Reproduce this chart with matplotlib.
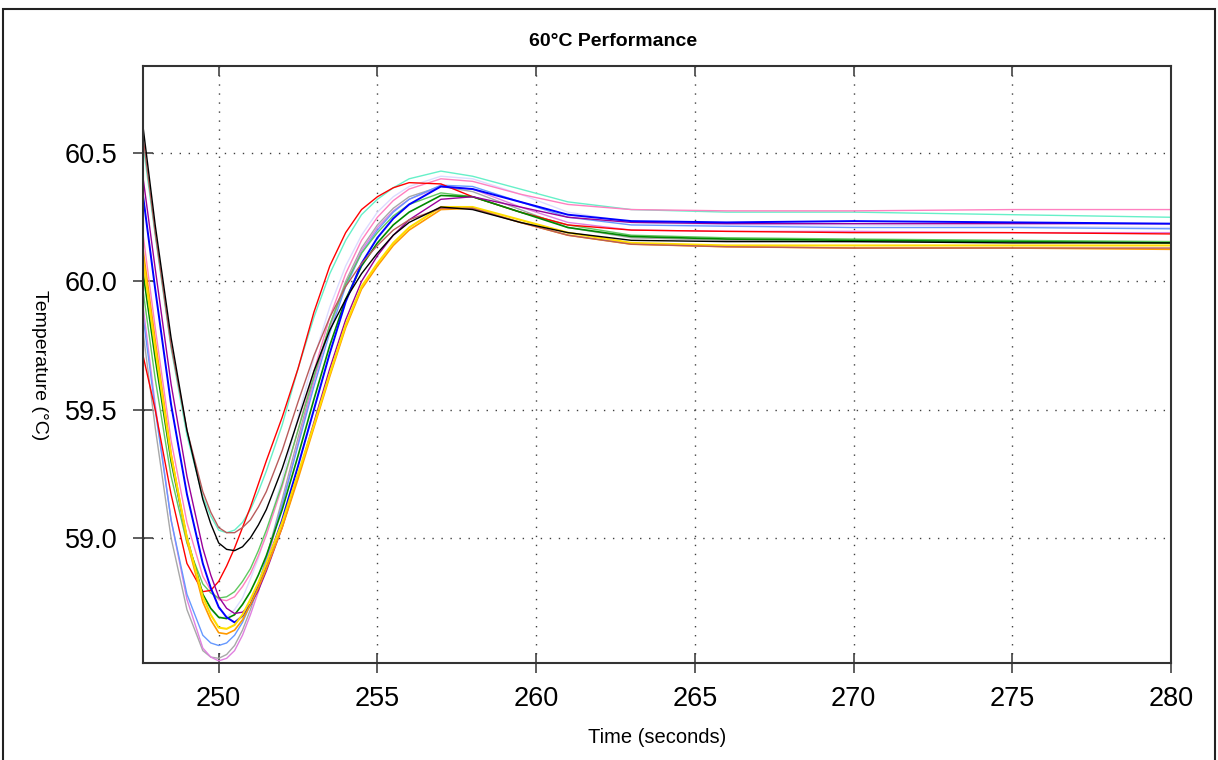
import matplotlib
matplotlib.use("Agg")
import matplotlib.pyplot as plt
from matplotlib.patches import Rectangle

# ---------------- data ----------------
time_s = [247.6, 248.0, 248.5, 249.0, 249.5, 249.75, 250.0, 250.25, 250.5, 250.75, 251.0,
          251.25, 251.5, 252.0, 252.5, 253.0, 253.5, 254.0, 254.5, 255.0, 255.5, 256.0,
          257.0, 258.0, 259.5, 261.0, 263.0, 266.0, 270.0, 275.0, 280.0]

lavender = [60.10, 59.72, 59.29, 58.98, 58.77, 58.72, 58.69, 58.69, 58.72, 58.765, 58.84,
            58.92, 59.02, 59.23, 59.47, 59.70, 59.90, 60.06, 60.18, 60.27, 60.33, 60.37,
            60.41, 60.40, 60.34, 60.27, 60.23, 60.22, 60.22, 60.215, 60.21]
gray = [59.82, 59.43, 59.00, 58.72, 58.56, 58.535, 58.53, 58.545, 58.58, 58.64, 58.72,
        58.81, 58.92, 59.15, 59.39, 59.62, 59.83, 60.00, 60.13, 60.22, 60.285, 60.33,
        60.37, 60.35, 60.28, 60.21, 60.17, 60.16, 60.155, 60.155, 60.155]
violet = [59.92, 59.52, 59.07, 58.76, 58.57, 58.535, 58.52, 58.53, 58.56, 58.62, 58.70,
          58.79, 58.90, 59.13, 59.37, 59.61, 59.82, 59.99, 60.12, 60.21, 60.275, 60.32,
          60.37, 60.36, 60.29, 60.23, 60.20, 60.195, 60.195, 60.19, 60.19]
cornflower = [59.88, 59.50, 59.07, 58.78, 58.62, 58.59, 58.58, 58.59, 58.62, 58.67, 58.74,
              58.82, 58.92, 59.13, 59.36, 59.59, 59.80, 59.98, 60.11, 60.20, 60.27, 60.32,
              60.375, 60.37, 60.31, 60.25, 60.22, 60.215, 60.21, 60.21, 60.205]
aqua = [60.55, 60.18, 59.74, 59.40, 59.16, 59.085, 59.03, 59.02, 59.03, 59.06, 59.11,
        59.18, 59.26, 59.44, 59.66, 59.86, 60.03, 60.16, 60.26, 60.32, 60.365, 60.40,
        60.43, 60.41, 60.36, 60.31, 60.28, 60.27, 60.27, 60.26, 60.25]
pink = [60.20, 59.82, 59.38, 59.06, 58.85, 58.795, 58.76, 58.755, 58.77, 58.81, 58.86,
        58.93, 59.01, 59.20, 59.42, 59.65, 59.86, 60.03, 60.16, 60.25, 60.315, 60.36,
        60.40, 60.39, 60.34, 60.30, 60.28, 60.275, 60.275, 60.28, 60.28]
lightgreen = [59.98, 59.62, 59.24, 58.98, 58.82, 58.785, 58.765, 58.77, 58.79, 58.83, 58.88,
              58.95, 59.03, 59.21, 59.42, 59.63, 59.83, 59.99, 60.11, 60.19, 60.255, 60.30,
              60.345, 60.33, 60.27, 60.22, 60.18, 60.17, 60.165, 60.16, 60.155]
red = [59.72, 59.50, 59.17, 58.90, 58.79, 58.795, 58.83, 58.89, 58.96, 59.04, 59.12,
       59.21, 59.30, 59.47, 59.66, 59.88, 60.06, 60.19, 60.28, 60.33, 60.365, 60.385,
       60.38, 60.33, 60.27, 60.22, 60.20, 60.195, 60.19, 60.19, 60.185]
green = [60.05, 59.70, 59.30, 59.00, 58.78, 58.725, 58.69, 58.685, 58.70, 58.74, 58.79,
         58.855, 58.93, 59.11, 59.32, 59.54, 59.75, 59.93, 60.06, 60.15, 60.22, 60.27,
         60.335, 60.33, 60.27, 60.21, 60.175, 60.165, 60.16, 60.155, 60.15]
purple = [60.42, 60.05, 59.60, 59.24, 58.96, 58.855, 58.77, 58.725, 58.705, 58.71, 58.74,
          58.795, 58.87, 59.04, 59.24, 59.45, 59.66, 59.85, 60.00, 60.10, 60.18, 60.24,
          60.32, 60.33, 60.29, 60.25, 60.23, 60.225, 60.225, 60.225, 60.225]
blue = [60.35, 59.97, 59.52, 59.17, 58.90, 58.805, 58.73, 58.69, 58.67, 58.695, 58.74,
        58.81, 58.89, 59.07, 59.28, 59.50, 59.72, 59.92, 60.07, 60.17, 60.245, 60.30,
        60.37, 60.36, 60.31, 60.26, 60.235, 60.23, 60.235, 60.23, 60.225]
orange = [60.14, 59.77, 59.33, 58.99, 58.75, 58.68, 58.63, 58.625, 58.64, 58.68, 58.74,
          58.805, 58.88, 59.04, 59.23, 59.43, 59.63, 59.82, 59.97, 60.06, 60.14, 60.20,
          60.28, 60.285, 60.23, 60.18, 60.145, 60.135, 60.13, 60.13, 60.125]
yellow = [60.10, 59.74, 59.32, 59.00, 58.77, 58.70, 58.65, 58.645, 58.66, 58.70, 58.76,
          58.825, 58.90, 59.06, 59.25, 59.44, 59.64, 59.83, 59.98, 60.07, 60.15, 60.21,
          60.29, 60.29, 60.24, 60.19, 60.15, 60.14, 60.14, 60.14, 60.14]
brown = [60.58, 60.19, 59.75, 59.42, 59.18, 59.10, 59.04, 59.02, 59.02, 59.04, 59.07,
         59.12, 59.18, 59.34, 59.53, 59.71, 59.86, 59.98, 60.07, 60.14, 60.20, 60.24,
         60.285, 60.285, 60.23, 60.18, 60.145, 60.135, 60.13, 60.13, 60.13]
black = [60.62, 60.22, 59.78, 59.42, 59.15, 59.055, 58.98, 58.955, 58.95, 58.965, 59.00,
         59.05, 59.11, 59.27, 59.46, 59.65, 59.81, 59.93, 60.03, 60.11, 60.18, 60.23,
         60.29, 60.28, 60.23, 60.19, 60.16, 60.155, 60.155, 60.15, 60.15]

series = [
    (lavender, "#dcdcff", 1.0),
    (gray, "#a8a8a8", 1.0),
    (violet, "#e080e0", 1.0),
    (cornflower, "#6699ff", 1.0),
    (aqua, "#66f0c8", 1.0),
    (pink, "#ff80c0", 1.0),
    (lightgreen, "#60c860", 1.0),
    (red, "#ff0000", 1.0),
    (green, "#008800", 1.2),
    (purple, "#990099", 1.0),
    (blue, "#0000ff", 1.4),
    (orange, "#ff9900", 1.2),
    (yellow, "#ffdd00", 1.5),
    (brown, "#b85c5c", 1.0),
    (black, "#000000", 1.0),
]

x_ticks = [250, 255, 260, 265, 270, 275, 280]
y_ticks = [59.0, 59.5, 60.0, 60.5]

# ---------------- figure ----------------
plt.rcParams['font.family'] = ['Liberation Sans', 'DejaVu Sans']
W, H = 1218, 760
fig = plt.figure(figsize=(W / 100, H / 100), dpi=100)
fig.patch.set_facecolor("white")

# outer frame
fig.patches.append(Rectangle((3 / W, -0.02), (1215 - 3) / W, 1.02 - 9 / H,
                             transform=fig.transFigure, fill=False,
                             edgecolor="#222222", lw=1.5))

ax_l, ax_r, ax_t, ax_b = 142.5, 1171, 65.7, 662.7
ax = fig.add_axes([ax_l / W, 1 - ax_b / H, (ax_r - ax_l) / W, (ax_b - ax_t) / H])

for vals, col, lw in series:
    ax.plot(time_s, vals, color=col, lw=lw, solid_joinstyle="round")

ax.set_xlim(247.6, 280.0)
ax.set_ylim(58.513, 60.841)
ax.set_xticks(x_ticks)
ax.set_yticks(y_ticks)
ax.set_xticklabels([str(v) for v in x_ticks])
ax.set_yticklabels([f"{v:.1f}" for v in y_ticks])

ax.grid(True, color="#404040", linestyle=(0, (1, 5.5)), lw=1.0)

for sp in ax.spines.values():
    sp.set_color("#333333")
    sp.set_linewidth(1.5)

ax.tick_params(axis="both", direction="inout", length=14, width=1.1, color="#333333",
               labelsize=19.5, labelcolor="black")
ax.tick_params(axis="x", pad=10)
ax.tick_params(axis="y", pad=11)

# top ticks inward
top = ax.secondary_xaxis("top")
top.set_xticks(x_ticks)
top.tick_params(direction="in", length=7, width=1.1, color="#333333", labeltop=False)
top.spines["top"].set_visible(False)

fig.text(613 / W, 1 - 42 / H, "60°C Performance", fontsize=14, fontweight="bold",
         ha="center", va="center")
ax.set_xlabel("Time (seconds)", fontsize=14.5, labelpad=11)
fig.text(39 / W, 1 - 365 / H, "Temperature (°C)", rotation=270, fontsize=14,
         ha="center", va="center")

fig.savefig("out.png", dpi=100)
